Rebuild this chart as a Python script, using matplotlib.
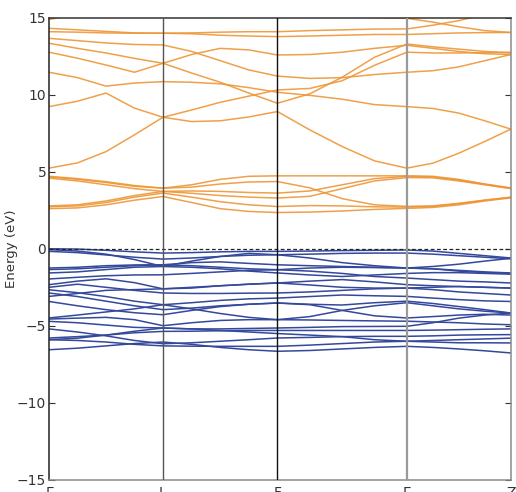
import matplotlib
matplotlib.use("Agg")
import matplotlib.pyplot as plt
import numpy as np

# High-symmetry labels and path positions (segment lengths)
sym_labels = ["Γ", "L", "F", "Γ", "Z"]
sym_pos = [0.0, 114.0, 228.5, 358.0, 462.0]

# k-points: each segment split in quarters (17 points in total)
kpts = [0.0, 28.5, 57.0, 85.5, 114.0,
        142.6, 171.3, 199.9, 228.5,
        260.9, 293.3, 325.6, 358.0,
        384.0, 410.0, 436.0, 462.0]

# Conduction bands (eV), values at kpts
cond_bands = [
    [2.60, 2.65, 2.85, 3.15, 3.39, 3.00, 2.60, 2.42, 2.35, 2.38, 2.45, 2.55, 2.62, 2.68, 2.85, 3.10, 3.30],
    [2.72, 2.78, 3.00, 3.35, 3.61, 3.35, 3.05, 2.85, 2.74, 2.80, 2.78, 2.72, 2.70, 2.75, 2.92, 3.15, 3.35],
    [2.78, 2.85, 3.10, 3.45, 3.72, 3.60, 3.45, 3.35, 3.29, 3.40, 3.90, 4.40, 4.62, 4.60, 4.40, 4.15, 3.90],
    [4.58, 4.40, 4.15, 3.90, 3.72, 3.75, 3.72, 3.65, 3.61, 3.75, 4.15, 4.55, 4.70, 4.66, 4.45, 4.18, 3.92],
    [4.66, 4.50, 4.30, 4.05, 3.93, 4.00, 4.20, 4.33, 4.36, 3.95, 3.25, 2.85, 2.75, 2.78, 2.95, 3.15, 3.33],
    [4.70, 4.55, 4.35, 4.10, 3.93, 4.15, 4.50, 4.70, 4.73, 4.73, 4.73, 4.73, 4.73, 4.70, 4.50, 4.20, 3.95],
    [5.23, 5.57, 6.30, 7.39, 8.53, 8.25, 8.30, 8.55, 8.90, 7.71, 6.63, 5.70, 5.23, 5.55, 6.20, 6.96, 7.76],
    [9.22, 9.57, 10.10, 9.12, 8.53, 9.00, 9.50, 9.90, 10.30, 10.40, 10.90, 11.90, 12.75, 12.70, 12.70, 12.72, 12.75],
    [11.45, 11.10, 10.55, 10.75, 10.84, 10.80, 10.70, 10.45, 10.15, 9.95, 9.70, 9.35, 9.22, 9.10, 8.80, 8.30, 7.76],
    [12.75, 12.36, 11.92, 11.45, 12.03, 11.40, 10.80, 10.10, 9.44, 10.05, 11.13, 12.42, 13.28, 13.10, 12.95, 12.80, 12.70],
    [13.33, 13.00, 12.70, 12.35, 12.03, 12.60, 13.00, 12.90, 12.57, 12.60, 12.75, 13.00, 13.20, 13.00, 12.80, 12.65, 12.60],
    [13.65, 13.50, 13.35, 13.25, 13.22, 12.80, 12.20, 11.60, 11.20, 11.05, 11.10, 11.30, 11.45, 11.55, 11.80, 12.20, 12.60],
    [14.08, 14.05, 14.00, 13.98, 13.98, 13.95, 13.85, 13.80, 13.76, 13.80, 13.85, 13.90, 13.90, 13.95, 14.00, 14.02, 14.03],
    [14.30, 14.20, 14.10, 14.00, 13.98, 14.00, 14.05, 14.08, 14.08, 14.15, 14.20, 14.25, 14.26, 14.50, 14.80, 15.20, 15.60],
    [14.88, 15.20, 15.50, 15.80, 16.00, 16.00, 16.00, 15.80, 15.50, 15.30, 15.10, 15.00, 14.95, 14.70, 14.40, 14.15, 14.03],
]

# Valence bands (eV), values at kpts
val_bands = [
    [0.00, -0.02, -0.10, -0.20, -0.28, -0.25, -0.20, -0.17, -0.17, -0.15, -0.12, -0.10, -0.08, -0.15, -0.30, -0.45, -0.60],
    [-0.17, -0.25, -0.40, -0.55, -0.67, -0.60, -0.50, -0.42, -0.39, -0.35, -0.30, -0.28, -0.28, -0.35, -0.45, -0.55, -0.65],
    [-0.05, -0.15, -0.35, -0.70, -1.15, -0.80, -0.50, -0.30, -0.39, -0.60, -0.90, -1.10, -1.25, -1.15, -1.00, -0.80, -0.62],
    [-1.25, -1.20, -1.10, -1.05, -1.04, -0.90, -0.85, -0.95, -1.04, -1.10, -1.15, -1.20, -1.25, -1.30, -1.40, -1.50, -1.57],
    [-1.35, -1.30, -1.20, -1.10, -1.04, -1.10, -1.20, -1.30, -1.36, -1.25, -1.20, -1.22, -1.25, -1.30, -1.45, -1.55, -1.60],
    [-1.57, -1.50, -1.35, -1.20, -1.15, -1.20, -1.30, -1.45, -1.57, -1.70, -1.80, -1.70, -1.60, -1.55, -1.55, -1.60, -1.65],
    [-1.96, -1.85, -1.75, -1.70, -1.69, -1.60, -1.50, -1.40, -1.36, -1.45, -1.60, -1.80, -1.90, -2.00, -2.10, -2.15, -2.22],
    [-2.33, -2.10, -1.95, -2.20, -2.60, -2.50, -2.40, -2.30, -2.22, -2.10, -2.00, -2.15, -2.33, -2.40, -2.45, -2.50, -2.55],
    [-2.50, -2.30, -2.50, -2.70, -2.87, -2.90, -2.90, -2.88, -2.87, -2.80, -2.70, -2.60, -2.55, -2.65, -2.80, -2.90, -3.00],
    [-3.09, -2.90, -2.70, -2.65, -2.60, -2.55, -2.40, -2.30, -2.22, -2.35, -2.50, -2.55, -2.55, -2.50, -2.45, -2.50, -2.55],
    [-2.66, -2.85, -3.10, -3.40, -3.63, -3.50, -3.35, -3.25, -3.20, -3.10, -3.00, -3.05, -3.09, -3.20, -3.30, -3.38, -3.42],
    [-2.87, -3.10, -3.40, -3.70, -3.95, -3.85, -3.70, -3.60, -3.52, -3.60, -3.65, -3.50, -3.40, -3.55, -3.75, -3.95, -4.17],
    [-3.42, -3.70, -3.95, -4.15, -4.28, -4.00, -3.75, -3.60, -3.52, -3.63, -4.00, -4.35, -4.49, -4.40, -4.30, -4.25, -4.30],
    [-4.49, -4.30, -4.10, -3.90, -3.63, -3.90, -4.20, -4.45, -4.60, -4.40, -4.00, -3.70, -3.50, -3.70, -3.90, -4.05, -4.17],
    [-4.56, -4.50, -4.45, -4.60, -4.99, -4.80, -4.65, -4.60, -4.60, -4.62, -4.65, -4.68, -4.70, -4.75, -4.80, -4.88, -4.93],
    [-4.71, -4.80, -4.95, -5.10, -5.14, -5.20, -5.20, -5.17, -5.14, -5.10, -5.05, -5.04, -5.03, -4.80, -4.50, -4.30, -4.17],
    [-5.20, -5.40, -5.65, -5.95, -6.16, -6.10, -6.00, -5.90, -5.79, -5.75, -5.70, -5.68, -5.68, -5.65, -5.60, -5.58, -5.57],
    [-5.79, -5.70, -5.60, -5.45, -5.36, -5.35, -5.32, -5.30, -5.30, -5.30, -5.30, -5.30, -5.30, -5.28, -5.25, -5.22, -5.20],
    [-5.90, -5.80, -5.60, -5.35, -5.14, -5.20, -5.30, -5.40, -5.50, -5.60, -5.70, -5.90, -6.00, -6.05, -6.10, -6.10, -6.11],
    [-5.90, -5.95, -6.05, -6.20, -6.30, -6.32, -6.33, -6.33, -6.33, -6.25, -6.15, -6.05, -6.00, -5.95, -5.90, -5.85, -5.80],
    [-6.55, -6.45, -6.30, -6.15, -6.05, -6.20, -6.40, -6.55, -6.65, -6.60, -6.50, -6.40, -6.33, -6.40, -6.50, -6.62, -6.76],
]

fig = plt.figure(figsize=(5.16, 4.92), dpi=100)
ax = fig.add_axes([0.095, 0.0244, 0.895, 0.94])

for b in cond_bands:
    ax.plot(kpts, b, color="#EE9636", lw=1.1, alpha=0.9)
for b in val_bands:
    ax.plot(kpts, b, color="#34489C", lw=1.1)

ax.axhline(0, color="#222222", lw=0.9, ls=(0, (3, 2)), zorder=3)

vcols = [None, "#555555", "#111111", "#9A9A9A", None]
vlw = [0, 1.0, 1.0, 1.6, 0]
for p, c, w in zip(sym_pos, vcols, vlw):
    if c is not None:
        ax.axvline(p, color=c, lw=w, zorder=4)

ax.set_xlim(sym_pos[0], sym_pos[-1])
ax.set_ylim(-15, 15)
ax.set_yticks([-15, -10, -5, 0, 5, 10, 15])
ax.set_xticks(sym_pos)
ax.set_xticklabels(sym_labels)
ax.tick_params(axis="y", direction="in", length=4, right=True, labelsize=10,
               colors="#333333", pad=2)
ax.tick_params(axis="x", direction="in", length=0, labelsize=10, colors="#333333", pad=4)
ax.set_ylabel("Energy (eV)", fontsize=9.5, color="#333333")
ax.yaxis.set_label_coords(-0.068, 0.5)

ax.spines["left"].set_color("#222222")
ax.spines["top"].set_color("#333333")
ax.spines["bottom"].set_color("#8A8A8A")
ax.spines["right"].set_color("#8A8A8A")
for s in ax.spines.values():
    s.set_linewidth(1.1)

fig.savefig("out.png", dpi=100)
